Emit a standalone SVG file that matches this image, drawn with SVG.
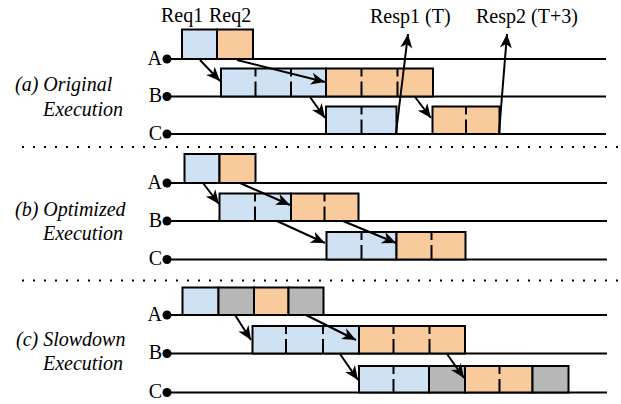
<svg xmlns="http://www.w3.org/2000/svg" width="621" height="404" viewBox="0 0 621 404">
<style>
.t{font-family:"Liberation Serif","Times New Roman",serif;font-size:20px;fill:#000}
.i{font-style:italic}
.ln{stroke:#000;stroke-width:2;fill:none}
.sep{stroke:#000;stroke-width:2;stroke-dasharray:2 9;fill:none}
.b{fill:#cfe2f3;stroke:#000;stroke-width:2}
.o{fill:#f9cb9c;stroke:#000;stroke-width:2}
.g{fill:#b7b7b7;stroke:#000;stroke-width:2}
.d{stroke:#000;stroke-width:2;stroke-dasharray:8 5 20;fill:none}
.a{stroke:#000;stroke-width:2;fill:none;marker-end:url(#ah)}
</style>
<defs>
<marker id="ah" markerUnits="userSpaceOnUse" markerWidth="15" markerHeight="13" refX="14" refY="6.5" orient="auto">
<path d="M0,0.5 L14,6.5 L0,12.5 L4,6.5 z" fill="#000"/>
</marker>
</defs>
<rect width="621" height="404" fill="#fff"/>

<g id="separators">
<line class="sep" x1="22" y1="147" x2="619" y2="147"/>
<line class="sep" x1="22" y1="280.5" x2="619" y2="280.5"/>
</g>

<g id="labels">
<text class="t i" x="15" y="91">(a) Original</text>
<text class="t i" x="43" y="116">Execution</text>
<text class="t i" x="15" y="216">(b) Optimized</text>
<text class="t i" x="43" y="240">Execution</text>
<text class="t i" x="16" y="346">(c) Slowdown</text>
<text class="t i" x="43" y="370">Execution</text>
<text class="t" x="161" y="22">Req1</text>
<text class="t" x="209" y="22">Req2</text>
<text class="t" x="370" y="23">Resp1 (T)</text>
<text class="t" x="476" y="23">Resp2 (T+3)</text>
</g>

<g id="timelines">
<g id="line-a-A"><line class="ln" x1="167" y1="59" x2="606" y2="59"/><circle cx="167" cy="59" r="4.5"/><text class="t" x="162" y="64.5" text-anchor="end">A</text></g>
<g id="line-a-B"><line class="ln" x1="167" y1="96.5" x2="606" y2="96.5"/><circle cx="167" cy="96.5" r="4.5"/><text class="t" x="162" y="102" text-anchor="end">B</text></g>
<g id="line-a-C"><line class="ln" x1="167" y1="134" x2="606" y2="134"/><circle cx="167" cy="134" r="4.5"/><text class="t" x="162" y="139.5" text-anchor="end">C</text></g>
<g id="line-b-A"><line class="ln" x1="167" y1="183" x2="607" y2="183"/><circle cx="167" cy="183" r="4.5"/><text class="t" x="162" y="188.5" text-anchor="end">A</text></g>
<g id="line-b-B"><line class="ln" x1="167" y1="221" x2="607" y2="221"/><circle cx="167" cy="221" r="4.5"/><text class="t" x="162" y="226.5" text-anchor="end">B</text></g>
<g id="line-b-C"><line class="ln" x1="167" y1="259.5" x2="607" y2="259.5"/><circle cx="167" cy="259.5" r="4.5"/><text class="t" x="162" y="265" text-anchor="end">C</text></g>
<g id="line-c-A"><line class="ln" x1="167" y1="315" x2="607" y2="315"/><circle cx="167" cy="315" r="4.5"/><text class="t" x="162" y="320.5" text-anchor="end">A</text></g>
<g id="line-c-B"><line class="ln" x1="167" y1="353.5" x2="607" y2="353.5"/><circle cx="167" cy="353.5" r="4.5"/><text class="t" x="162" y="359" text-anchor="end">B</text></g>
<g id="line-c-C"><line class="ln" x1="167" y1="392.5" x2="607" y2="392.5"/><circle cx="167" cy="392.5" r="4.5"/><text class="t" x="162" y="398" text-anchor="end">C</text></g>
</g>

<g id="section-a">
<g id="a-A-req1"><rect class="b" x="182" y="29.5" width="35" height="29.5"/></g>
<g id="a-A-req2"><rect class="o" x="217" y="29.5" width="36" height="29.5"/></g>
<g id="a-B-req1"><rect class="b" x="221" y="68.5" width="105" height="28"/><line class="d" x1="255.5" y1="68.5" x2="255.5" y2="96.5"/><line class="d" x1="291" y1="68.5" x2="291" y2="96.5"/></g>
<g id="a-B-req2"><rect class="o" x="326" y="68.5" width="107" height="28"/><line class="d" x1="361.5" y1="68.5" x2="361.5" y2="96.5"/><line class="d" x1="397.5" y1="68.5" x2="397.5" y2="96.5"/></g>
<g id="a-C-req1"><rect class="b" x="326" y="106.5" width="70.5" height="27.5"/><line class="d" x1="361.5" y1="106.5" x2="361.5" y2="134"/></g>
<g id="a-C-req2"><rect class="o" x="432.5" y="106.5" width="67" height="27.5"/><line class="d" x1="466" y1="106.5" x2="466" y2="134"/></g>
</g>

<g id="section-b">
<g id="b-A-req1"><rect class="b" x="184.5" y="154" width="35" height="29"/></g>
<g id="b-A-req2"><rect class="o" x="219.5" y="154" width="36" height="29"/></g>
<g id="b-B-req1"><rect class="b" x="219.5" y="193.5" width="71.5" height="27.5"/><line class="d" x1="255" y1="193.5" x2="255" y2="221"/></g>
<g id="b-B-req2"><rect class="o" x="291" y="193.5" width="67.5" height="27.5"/><line class="d" x1="324.5" y1="193.5" x2="324.5" y2="221"/></g>
<g id="b-C-req1"><rect class="b" x="326.5" y="232" width="70" height="27.5"/><line class="d" x1="361.5" y1="232" x2="361.5" y2="259.5"/></g>
<g id="b-C-req2"><rect class="o" x="396.5" y="232" width="69" height="27.5"/><line class="d" x1="431.5" y1="232" x2="431.5" y2="259.5"/></g>
</g>

<g id="section-c">
<g id="c-A-req1"><rect class="b" x="182.5" y="287.5" width="36" height="27.5"/></g>
<g id="c-A-gap1"><rect class="g" x="218.5" y="287.5" width="35.5" height="27.5"/></g>
<g id="c-A-req2"><rect class="o" x="254" y="287.5" width="34.5" height="27.5"/></g>
<g id="c-A-gap2"><rect class="g" x="288.5" y="287.5" width="35" height="27.5"/></g>
<g id="c-B-req1"><rect class="b" x="252.5" y="326" width="106.5" height="27.5"/><line class="d" x1="286" y1="326" x2="286" y2="353.5"/><line class="d" x1="323" y1="326" x2="323" y2="353.5"/></g>
<g id="c-B-req2"><rect class="o" x="359" y="326" width="106" height="27.5"/><line class="d" x1="393.5" y1="326" x2="393.5" y2="353.5"/><line class="d" x1="429.5" y1="326" x2="429.5" y2="353.5"/></g>
<g id="c-C-req1"><rect class="b" x="359" y="366" width="70" height="26.5"/><line class="d" x1="393.5" y1="366" x2="393.5" y2="392.5"/></g>
<g id="c-C-gap1"><rect class="g" x="429" y="366" width="36" height="26.5"/></g>
<g id="c-C-req2"><rect class="o" x="465" y="366" width="67.5" height="26.5"/><line class="d" x1="499.5" y1="366" x2="499.5" y2="392.5"/></g>
<g id="c-C-gap2"><rect class="g" x="532.5" y="366" width="36" height="26.5"/></g>
</g>

<g id="connectors">
<line class="a" x1="200" y1="60" x2="220" y2="81"/>
<line class="a" x1="237" y1="60" x2="325" y2="82"/>
<line class="a" x1="310" y1="97" x2="325" y2="118"/>
<line class="a" x1="415" y1="97" x2="431" y2="118"/>
<line class="a" x1="396" y1="133" x2="408" y2="34"/>
<line class="a" x1="499" y1="133" x2="507" y2="34"/>
<line class="a" x1="203" y1="183" x2="219" y2="204"/>
<line class="a" x1="240" y1="183" x2="290" y2="205"/>
<line class="a" x1="277" y1="221" x2="325" y2="243"/>
<line class="a" x1="343" y1="221" x2="396" y2="243"/>
<line class="a" x1="235" y1="315" x2="251" y2="340"/>
<line class="a" x1="306" y1="315" x2="356" y2="340"/>
<line class="a" x1="340" y1="354" x2="358" y2="380"/>
<line class="a" x1="447" y1="354" x2="464" y2="378"/>
</g>
</svg>
